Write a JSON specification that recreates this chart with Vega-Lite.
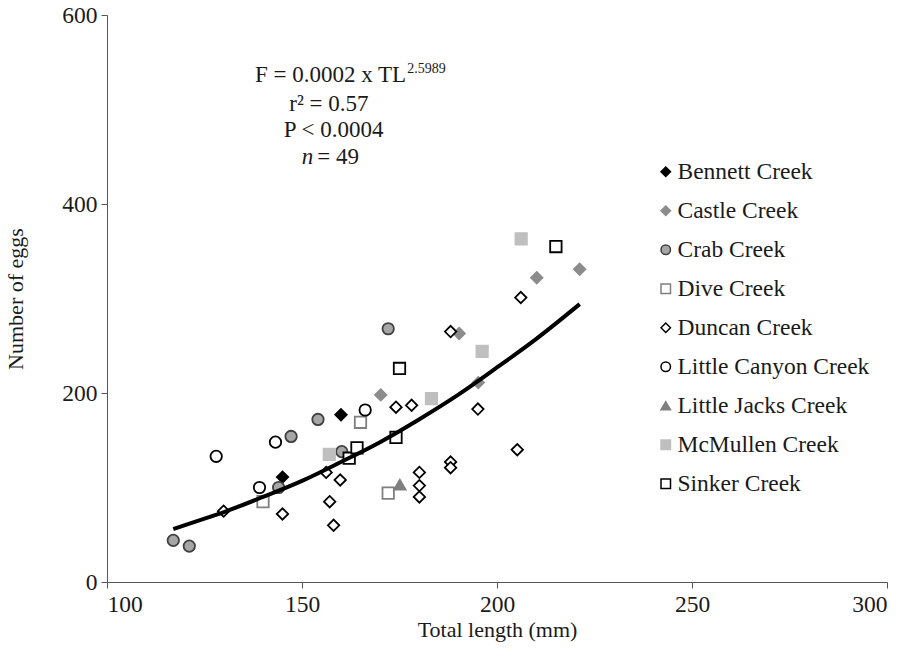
{
  "$schema": "https://vega.github.io/schema/vega-lite/v6.json",
  "width": 780,
  "height": 567,
  "autosize": {"type": "none"},
  "padding": {"left": 107, "top": 15, "right": 22, "bottom": 76},
  "background": "white",
  "config": {
    "font": "Liberation Serif",
    "view": {"stroke": null},
    "axis": {
      "grid": false,
      "domainColor": "#555555",
      "tickColor": "#555555",
      "tickSize": 6,
      "labelFont": "Liberation Serif",
      "labelFontSize": 23.5,
      "labelColor": "#1a1a1a",
      "titleFont": "Liberation Serif",
      "titleFontSize": 22,
      "titleFontWeight": "normal",
      "titleColor": "#1a1a1a"
    },
    "legend": {
      "labelFont": "Liberation Serif",
      "labelFontSize": 23.5,
      "labelColor": "#1a1a1a",
      "labelLimit": 400
    }
  },
  "datasets": {
    "eggs": [
      {"site": "Bennett Creek", "tl": 145, "eggs": 111},
      {"site": "Bennett Creek", "tl": 160, "eggs": 177},
      {"site": "Castle Creek", "tl": 170.2, "eggs": 198},
      {"site": "Castle Creek", "tl": 190.3, "eggs": 263},
      {"site": "Castle Creek", "tl": 195.2, "eggs": 211},
      {"site": "Castle Creek", "tl": 210.2, "eggs": 322},
      {"site": "Castle Creek", "tl": 221.2, "eggs": 331},
      {"site": "Crab Creek", "tl": 117, "eggs": 44},
      {"site": "Crab Creek", "tl": 121.1, "eggs": 38},
      {"site": "Crab Creek", "tl": 144, "eggs": 100},
      {"site": "Crab Creek", "tl": 147.2, "eggs": 154},
      {"site": "Crab Creek", "tl": 154.1, "eggs": 172},
      {"site": "Crab Creek", "tl": 160.2, "eggs": 138},
      {"site": "Crab Creek", "tl": 172.1, "eggs": 268},
      {"site": "Dive Creek", "tl": 140, "eggs": 85},
      {"site": "Dive Creek", "tl": 165, "eggs": 169},
      {"site": "Dive Creek", "tl": 172.1, "eggs": 94},
      {"site": "Duncan Creek", "tl": 129.9, "eggs": 75},
      {"site": "Duncan Creek", "tl": 145, "eggs": 72},
      {"site": "Duncan Creek", "tl": 156.2, "eggs": 116},
      {"site": "Duncan Creek", "tl": 157.1, "eggs": 85},
      {"site": "Duncan Creek", "tl": 158.1, "eggs": 60},
      {"site": "Duncan Creek", "tl": 159.8, "eggs": 108},
      {"site": "Duncan Creek", "tl": 174.1, "eggs": 185},
      {"site": "Duncan Creek", "tl": 178.1, "eggs": 187},
      {"site": "Duncan Creek", "tl": 188.1, "eggs": 265},
      {"site": "Duncan Creek", "tl": 195.1, "eggs": 183},
      {"site": "Duncan Creek", "tl": 180.1, "eggs": 116},
      {"site": "Duncan Creek", "tl": 180.1, "eggs": 102},
      {"site": "Duncan Creek", "tl": 180.1, "eggs": 90},
      {"site": "Duncan Creek", "tl": 188.1, "eggs": 127},
      {"site": "Duncan Creek", "tl": 188.1, "eggs": 121},
      {"site": "Duncan Creek", "tl": 205.2, "eggs": 140},
      {"site": "Duncan Creek", "tl": 206.1, "eggs": 301},
      {"site": "Little Canyon Creek", "tl": 128, "eggs": 133},
      {"site": "Little Canyon Creek", "tl": 139.1, "eggs": 100},
      {"site": "Little Canyon Creek", "tl": 143.2, "eggs": 148},
      {"site": "Little Canyon Creek", "tl": 166.2, "eggs": 182},
      {"site": "Little Jacks Creek", "tl": 175.1, "eggs": 103},
      {"site": "McMullen Creek", "tl": 157, "eggs": 135},
      {"site": "McMullen Creek", "tl": 183.2, "eggs": 194},
      {"site": "McMullen Creek", "tl": 196.2, "eggs": 244},
      {"site": "McMullen Creek", "tl": 206.2, "eggs": 363},
      {"site": "Sinker Creek", "tl": 162.1, "eggs": 131},
      {"site": "Sinker Creek", "tl": 164.1, "eggs": 142},
      {"site": "Sinker Creek", "tl": 174.1, "eggs": 153},
      {"site": "Sinker Creek", "tl": 175, "eggs": 226},
      {"site": "Sinker Creek", "tl": 215.1, "eggs": 355}
    ],
    "curve": [
      {"tl": 117, "eggs": 56},
      {"tl": 125, "eggs": 67},
      {"tl": 130, "eggs": 74},
      {"tl": 140, "eggs": 90},
      {"tl": 150, "eggs": 107},
      {"tl": 160, "eggs": 127},
      {"tl": 170, "eggs": 148},
      {"tl": 180, "eggs": 172},
      {"tl": 190, "eggs": 198},
      {"tl": 200, "eggs": 227},
      {"tl": 210, "eggs": 257},
      {"tl": 221.2, "eggs": 294}
    ],
    "mainText": [
      {"tl": 176.7, "eggs": 536, "label": "F = 0.0002 x TL"}
    ],
    "supText": [
      {"tl": 177.0, "eggs": 543, "label": "2.5989"}
    ],
    "centerText": [
      {"tl": 156.9, "eggs": 506, "label": "r² = 0.57"},
      {"tl": 158.1, "eggs": 478, "label": "P < 0.0004"}
    ],
    "italicText": [
      {"tl": 152.9, "eggs": 450, "label": "n"}
    ],
    "leftText": [
      {"tl": 153.9, "eggs": 450, "label": "= 49"}
    ]
  },
  "layer": [
    {
      "data": {"name": "eggs"},
      "mark": {"type": "point", "filled": true, "size": 130, "strokeWidth": 1.8, "opacity": 1},
      "encoding": {
        "x": {
          "field": "tl", "type": "quantitative",
          "scale": {"domain": [100, 300], "nice": false, "zero": false},
          "axis": {"values": [100, 150, 200, 250, 300], "title": "Total length (mm)", "labelPadding": 4, "titlePadding": 4}
        },
        "y": {
          "field": "eggs", "type": "quantitative",
          "scale": {"domain": [0, 600], "nice": false},
          "axis": {"values": [0, 200, 400, 600], "title": "Number of eggs", "labelPadding": 4, "titlePadding": 34}
        },
        "shape": {
          "field": "site", "type": "nominal",
          "scale": {
            "domain": ["Bennett Creek", "Castle Creek", "Crab Creek", "Dive Creek", "Duncan Creek", "Little Canyon Creek", "Little Jacks Creek", "McMullen Creek", "Sinker Creek"],
            "range": ["diamond", "diamond", "circle", "square", "diamond", "circle", "triangle-up", "square", "square"]
          },
          "legend": {"title": null, "orient": "none", "legendX": 547, "legendY": 145, "symbolSize": 90, "symbolStrokeWidth": 1.5, "rowPadding": 14, "labelOffset": 0}
        },
        "fill": {
          "field": "site", "type": "nominal",
          "scale": {
            "domain": ["Bennett Creek", "Castle Creek", "Crab Creek", "Dive Creek", "Duncan Creek", "Little Canyon Creek", "Little Jacks Creek", "McMullen Creek", "Sinker Creek"],
            "range": ["#000000", "#8c8c8c", "#a6a6a6", "#ffffff", "#ffffff", "#ffffff", "#7f7f7f", "#bfbfbf", "#ffffff"]
          },
          "legend": {"title": null, "orient": "none", "legendX": 547, "legendY": 145, "symbolSize": 90, "symbolStrokeWidth": 1.5, "rowPadding": 14, "labelOffset": 0}
        },
        "stroke": {
          "field": "site", "type": "nominal",
          "scale": {
            "domain": ["Bennett Creek", "Castle Creek", "Crab Creek", "Dive Creek", "Duncan Creek", "Little Canyon Creek", "Little Jacks Creek", "McMullen Creek", "Sinker Creek"],
            "range": ["#000000", "#8c8c8c", "#404040", "#7f7f7f", "#000000", "#000000", "#7f7f7f", "#bfbfbf", "#000000"]
          },
          "legend": {"title": null, "orient": "none", "legendX": 547, "legendY": 145, "symbolSize": 90, "symbolStrokeWidth": 1.5, "rowPadding": 14, "labelOffset": 0}
        }
      }
    },
    {
      "data": {"name": "curve"},
      "mark": {"type": "line", "color": "#000000", "strokeWidth": 4, "interpolate": "monotone"},
      "encoding": {
        "x": {"field": "tl", "type": "quantitative"},
        "y": {"field": "eggs", "type": "quantitative"}
      }
    },
    {
      "data": {"name": "mainText"},
      "mark": {"type": "text", "align": "right", "baseline": "middle", "fontSize": 23, "color": "#1a1a1a", "font": "Liberation Serif"},
      "encoding": {
        "x": {"field": "tl", "type": "quantitative"},
        "y": {"field": "eggs", "type": "quantitative"},
        "text": {"field": "label"}
      }
    },
    {
      "data": {"name": "supText"},
      "mark": {"type": "text", "align": "left", "baseline": "middle", "fontSize": 14, "color": "#1a1a1a", "font": "Liberation Serif"},
      "encoding": {
        "x": {"field": "tl", "type": "quantitative"},
        "y": {"field": "eggs", "type": "quantitative"},
        "text": {"field": "label"}
      }
    },
    {
      "data": {"name": "centerText"},
      "mark": {"type": "text", "align": "center", "baseline": "middle", "fontSize": 23, "color": "#1a1a1a", "font": "Liberation Serif"},
      "encoding": {
        "x": {"field": "tl", "type": "quantitative"},
        "y": {"field": "eggs", "type": "quantitative"},
        "text": {"field": "label"}
      }
    },
    {
      "data": {"name": "italicText"},
      "mark": {"type": "text", "align": "right", "baseline": "middle", "fontSize": 23, "fontStyle": "italic", "color": "#1a1a1a", "font": "Liberation Serif"},
      "encoding": {
        "x": {"field": "tl", "type": "quantitative"},
        "y": {"field": "eggs", "type": "quantitative"},
        "text": {"field": "label"}
      }
    },
    {
      "data": {"name": "leftText"},
      "mark": {"type": "text", "align": "left", "baseline": "middle", "fontSize": 23, "color": "#1a1a1a", "font": "Liberation Serif"},
      "encoding": {
        "x": {"field": "tl", "type": "quantitative"},
        "y": {"field": "eggs", "type": "quantitative"},
        "text": {"field": "label"}
      }
    }
  ]
}
